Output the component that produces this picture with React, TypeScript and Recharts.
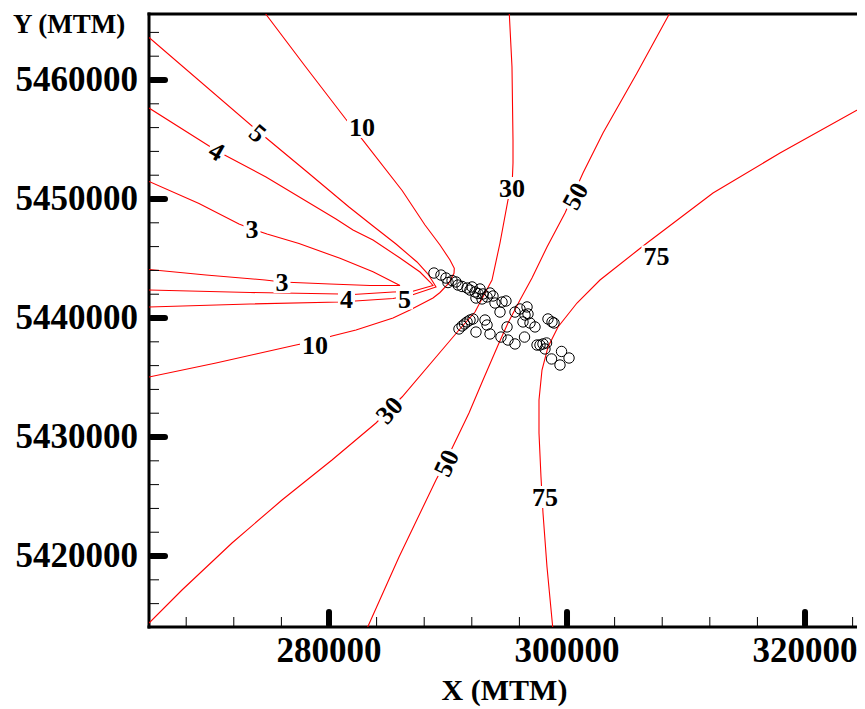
import React from "react";
import { ScatterChart, Scatter, XAxis, YAxis, Label } from "recharts";

const SERIF = '"Liberation Serif", "Times New Roman", serif';
const RED = "#ff0000";

const XMIN = 264875, XMAX = 324620;
const YMIN = 5414036, YMAX = 5465546;

const X_MAJOR = [280000, 300000, 320000];
const X_TICKS = [268000, 272000, 276000, 280000, 284000, 288000, 292000, 296000, 300000, 304000, 308000, 312000, 316000, 320000, 324000];
const Y_MAJOR = [5420000, 5430000, 5440000, 5450000, 5460000];
const Y_TICKS = [
  5416000, 5418000, 5420000, 5422000, 5424000, 5426000, 5428000, 5430000, 5432000, 5434000, 5436000, 5438000, 5440000,
  5442000, 5444000, 5446000, 5448000, 5450000, 5452000, 5454000, 5456000, 5458000, 5460000, 5462000, 5464000,
];

type Pt = { x: number; y: number };

// contour polylines (MTM easting / northing)
const c3: Pt[] = [
  { x: 264875, y: 5451471 }, { x: 269076, y: 5449622 }, { x: 272437, y: 5447900 }, { x: 273530, y: 5447480 },
  { x: 274790, y: 5447059 }, { x: 277479, y: 5446261 }, { x: 280924, y: 5445017 }, { x: 283697, y: 5443891 },
  { x: 285966, y: 5442732 }, { x: 283445, y: 5442732 }, { x: 280084, y: 5442858 }, { x: 276051, y: 5443026 },
  { x: 274622, y: 5443194 }, { x: 269664, y: 5443614 }, { x: 264875, y: 5444076 },
];
const c4: Pt[] = [
  { x: 264875, y: 5457647 }, { x: 270589, y: 5454034 }, { x: 274706, y: 5451849 }, { x: 280588, y: 5448320 },
  { x: 282017, y: 5447395 }, { x: 283697, y: 5446555 }, { x: 285966, y: 5445043 }, { x: 287647, y: 5443866 },
  { x: 288487, y: 5443026 }, { x: 288739, y: 5442732 }, { x: 286974, y: 5442228 }, { x: 285378, y: 5442186 },
  { x: 282017, y: 5441976 }, { x: 280924, y: 5442018 }, { x: 273362, y: 5442144 }, { x: 264875, y: 5442354 },
];
const c5: Pt[] = [
  { x: 264875, y: 5463571 }, { x: 274118, y: 5455630 }, { x: 278067, y: 5452353 }, { x: 281681, y: 5449328 },
  { x: 283697, y: 5447732 }, { x: 285630, y: 5446219 }, { x: 287395, y: 5444707 },
  { x: 288319, y: 5443698 }, { x: 288739, y: 5443026 }, { x: 288991, y: 5442606 }, { x: 286974, y: 5441934 },
  { x: 285378, y: 5441639 }, { x: 280924, y: 5441345 }, { x: 273362, y: 5441177 }, { x: 264875, y: 5440925 },
];
const c10: Pt[] = [
  { x: 274681, y: 5465546 }, { x: 277983, y: 5461176 }, { x: 281403, y: 5456723 }, { x: 282664, y: 5455185 },
  { x: 286159, y: 5450698 }, { x: 288067, y: 5447816 }, { x: 289327, y: 5446135 }, { x: 290168, y: 5444875 },
  { x: 290529, y: 5444177 }, { x: 290504, y: 5443757 }, { x: 290084, y: 5442942 }, { x: 289327, y: 5442144 },
  { x: 288739, y: 5441681 }, { x: 286806, y: 5440673 }, { x: 285378, y: 5440001 }, { x: 282269, y: 5438992 },
  { x: 280252, y: 5438488 }, { x: 278824, y: 5438068 }, { x: 277227, y: 5437732 }, { x: 273866, y: 5436976 },
  { x: 270505, y: 5436220 }, { x: 264875, y: 5435043 },
];
const c30: Pt[] = [
  { x: 295151, y: 5465546 }, { x: 295377, y: 5461092 }, { x: 295462, y: 5454958 }, { x: 295462, y: 5453026 },
  { x: 295377, y: 5450925 }, { x: 295041, y: 5449916 }, { x: 294369, y: 5446303 }, { x: 293697, y: 5443194 },
  { x: 293109, y: 5442102 }, { x: 292268, y: 5440505 }, { x: 290924, y: 5438992 }, { x: 289495, y: 5437312 },
  { x: 286134, y: 5433362 }, { x: 283949, y: 5431178 }, { x: 280252, y: 5428069 }, { x: 276051, y: 5424707 },
  { x: 271849, y: 5421094 }, { x: 267648, y: 5417145 }, { x: 264875, y: 5414372 },
];
const c50: Pt[] = [
  { x: 308595, y: 5465546 }, { x: 305881, y: 5460588 }, { x: 303024, y: 5455546 }, { x: 301344, y: 5452185 },
  { x: 299831, y: 5448824 }, { x: 298319, y: 5445967 }, { x: 297058, y: 5443362 }, { x: 296050, y: 5441513 },
  { x: 295041, y: 5439581 }, { x: 294285, y: 5437900 }, { x: 292941, y: 5434791 }, { x: 291764, y: 5432018 },
  { x: 289663, y: 5427648 }, { x: 288991, y: 5426388 }, { x: 285882, y: 5419918 }, { x: 283252, y: 5414036 },
];
const c75: Pt[] = [
  { x: 324620, y: 5457605 }, { x: 317898, y: 5453866 }, { x: 312268, y: 5450505 }, { x: 306722, y: 5446303 },
  { x: 305965, y: 5445715 }, { x: 302772, y: 5443194 }, { x: 300839, y: 5441261 }, { x: 299243, y: 5439245 },
  { x: 298403, y: 5437564 }, { x: 297898, y: 5435631 }, { x: 297646, y: 5433110 }, { x: 297646, y: 5430337 },
  { x: 297814, y: 5426640 }, { x: 297982, y: 5423615 }, { x: 298319, y: 5419077 }, { x: 298798, y: 5414036 },
];
const CONTOURS = [c3, c4, c5, c10, c30, c50, c75];

// contour labels
const LABELS = [
  { x: 274034, y: 5455546, text: "5" },
  { x: 270589, y: 5454034, text: "4" },
  { x: 273530, y: 5447480, text: "3" },
  { x: 282773, y: 5456051, text: "10" },
  { x: 295377, y: 5450925, text: "30" },
  { x: 300671, y: 5450253, text: "50" },
  { x: 307520, y: 5445169, text: "75" },
  { x: 276051, y: 5443026, text: "3" },
  { x: 281471, y: 5441639, text: "4" },
  { x: 286344, y: 5441639, text: "5" },
  { x: 278824, y: 5437732, text: "10" },
  { x: 285042, y: 5432270, text: "30" },
  { x: 289832, y: 5427817, text: "50" },
  { x: 298150, y: 5424959, text: "75" },
];
const LABEL_ANGLES = [40, 30, 0, 0, 0, -62, 0, 0, 0, 0, 0, -48, -65, 0];

// observation points
const stations: Pt[] = [
  { x: 288820, y: 5443780 }, { x: 289410, y: 5443610 }, { x: 289830, y: 5443360 }, { x: 290000, y: 5442980 },
  { x: 290340, y: 5443150 }, { x: 290670, y: 5443030 }, { x: 290840, y: 5442770 }, { x: 291180, y: 5442650 },
  { x: 291600, y: 5442520 }, { x: 291850, y: 5442350 }, { x: 292020, y: 5442610 }, { x: 292270, y: 5442190 },
  { x: 292520, y: 5442060 }, { x: 292690, y: 5442440 }, { x: 292940, y: 5442020 }, { x: 293280, y: 5441770 },
  { x: 293530, y: 5442100 }, { x: 293780, y: 5441850 }, { x: 293950, y: 5441260 }, { x: 292860, y: 5441600 },
  { x: 292350, y: 5441680 }, { x: 294540, y: 5441340 }, { x: 294870, y: 5441430 }, { x: 294370, y: 5440500 },
  { x: 295630, y: 5440500 }, { x: 296050, y: 5440760 }, { x: 296640, y: 5440930 }, { x: 296470, y: 5440250 },
  { x: 296720, y: 5440340 }, { x: 296300, y: 5439670 }, { x: 296890, y: 5439580 }, { x: 297310, y: 5439250 },
  { x: 298400, y: 5439920 }, { x: 298740, y: 5439670 }, { x: 298910, y: 5439580 }, { x: 297480, y: 5437730 },
  { x: 297730, y: 5437730 }, { x: 297980, y: 5437820 }, { x: 298280, y: 5437900 }, { x: 298150, y: 5437400 },
  { x: 299540, y: 5437190 }, { x: 300170, y: 5436640 }, { x: 298700, y: 5436560 }, { x: 299410, y: 5436050 },
  { x: 294960, y: 5439250 }, { x: 295040, y: 5438150 }, { x: 295630, y: 5437820 }, { x: 296430, y: 5438400 },
  { x: 290920, y: 5439080 }, { x: 291180, y: 5439330 }, { x: 291390, y: 5439500 }, { x: 291600, y: 5439670 },
  { x: 291850, y: 5439830 }, { x: 292100, y: 5439920 }, { x: 292350, y: 5438820 }, { x: 293110, y: 5439830 },
  { x: 293280, y: 5439410 }, { x: 293530, y: 5438660 }, { x: 294450, y: 5438400 },
];

const FRAME = { stroke: "#000", strokeWidth: 3, strokeLinecap: "square" as const };

const NoMark = () => <g />;

const Ring = (p: any) => (
  <circle cx={p.cx} cy={p.cy} r={5.2} fill="none" stroke="#000" strokeWidth={1} />
);

const ContourLabel = (p: any) => {
  const { cx, cy, payload, index } = p;
  const angle = LABEL_ANGLES[index] ?? 0;
  const w = payload.text.length * 13 + 4;
  return (
    <g transform={`rotate(${angle} ${cx} ${cy})`}>
      <rect x={cx - w / 2} y={cy - 11} width={w} height={22} fill="#fff" />
      <text x={cx} y={cy + 9} textAnchor="middle" fontSize={26} fontWeight="bold" fontFamily={SERIF} fill="#000">
        {payload.text}
      </text>
    </g>
  );
};

function XTick({ x, y, payload }: any) {
  const major = X_MAJOR.includes(payload.value);
  return (
    <g>
      {major ? (
        <line x1={x} x2={x} y1={y - 2} y2={y - 15} stroke="#000" strokeWidth={6} strokeLinecap="round" />
      ) : (
        <line x1={x} x2={x} y1={y} y2={y - 10} stroke="#000" strokeWidth={1} />
      )}
      {major && (
        <text x={x} y={y + 35} textAnchor="middle" fontSize={35} fontWeight="bold" fontFamily={SERIF} fill="#000">
          {payload.value}
        </text>
      )}
    </g>
  );
}

function YTick({ x, y, payload }: any) {
  const major = Y_MAJOR.includes(payload.value);
  return (
    <g>
      {major ? (
        <line x1={x + 2} x2={x + 16} y1={y} y2={y} stroke="#000" strokeWidth={6} strokeLinecap="round" />
      ) : (
        <line x1={x} x2={x + 10} y1={y} y2={y} stroke="#000" strokeWidth={1} />
      )}
      {major && (
        <text x={x - 11} y={y + 11} textAnchor="end" fontSize={35} fontWeight="bold" fontFamily={SERIF} fill="#000">
          {payload.value}
        </text>
      )}
    </g>
  );
}

export default function App() {
  return (
    <ScatterChart width={857} height={701} margin={{ top: 5, right: 4, bottom: 0, left: 0 }}>
      <XAxis
        type="number"
        dataKey="x"
        domain={[XMIN, XMAX]}
        allowDataOverflow
        ticks={X_TICKS}
        interval={0}
        tick={<XTick />}
        tickLine={false}
        axisLine={FRAME}
        tickSize={0}
        tickMargin={0}
        height={82}
      >
        <Label
          content={({ viewBox }: any) => (
            <text x={viewBox.x + viewBox.width / 2} y={viewBox.y + 73} textAnchor="middle" fontSize={30} fontWeight="bold" fontFamily={SERIF} fill="#000">
              X (MTM)
            </text>
          )}
        />
      </XAxis>
      <XAxis xAxisId="top" orientation="top" type="number" domain={[XMIN, XMAX]} allowDataOverflow height={1} tick={false} tickLine={false} axisLine={FRAME} />
      <YAxis
        type="number"
        dataKey="y"
        domain={[YMIN, YMAX]}
        allowDataOverflow
        ticks={Y_TICKS}
        interval={0}
        tick={<YTick />}
        tickLine={false}
        axisLine={FRAME}
        tickSize={0}
        tickMargin={0}
        width={141}
      >
        <Label
          content={({ viewBox }: any) => (
            <text x={viewBox.x + 5} y={viewBox.y + 19} textAnchor="start" fontSize={27} fontWeight="bold" fontFamily={SERIF} fill="#000">
              Y (MTM)
            </text>
          )}
        />
      </YAxis>
      <YAxis yAxisId="right" orientation="right" type="number" domain={[YMIN, YMAX]} allowDataOverflow width={1} tick={false} tickLine={false} axisLine={FRAME} />
      {CONTOURS.map((d, i) => (
        <Scatter
          key={i}
          data={d}
          line={{ stroke: RED, strokeWidth: 1.1 }}
          shape={NoMark}
          isAnimationActive={false}
        />
      ))}
      <Scatter data={LABELS} shape={ContourLabel} isAnimationActive={false} />
      <Scatter data={stations} shape={Ring} isAnimationActive={false} />
    </ScatterChart>
  );
}
